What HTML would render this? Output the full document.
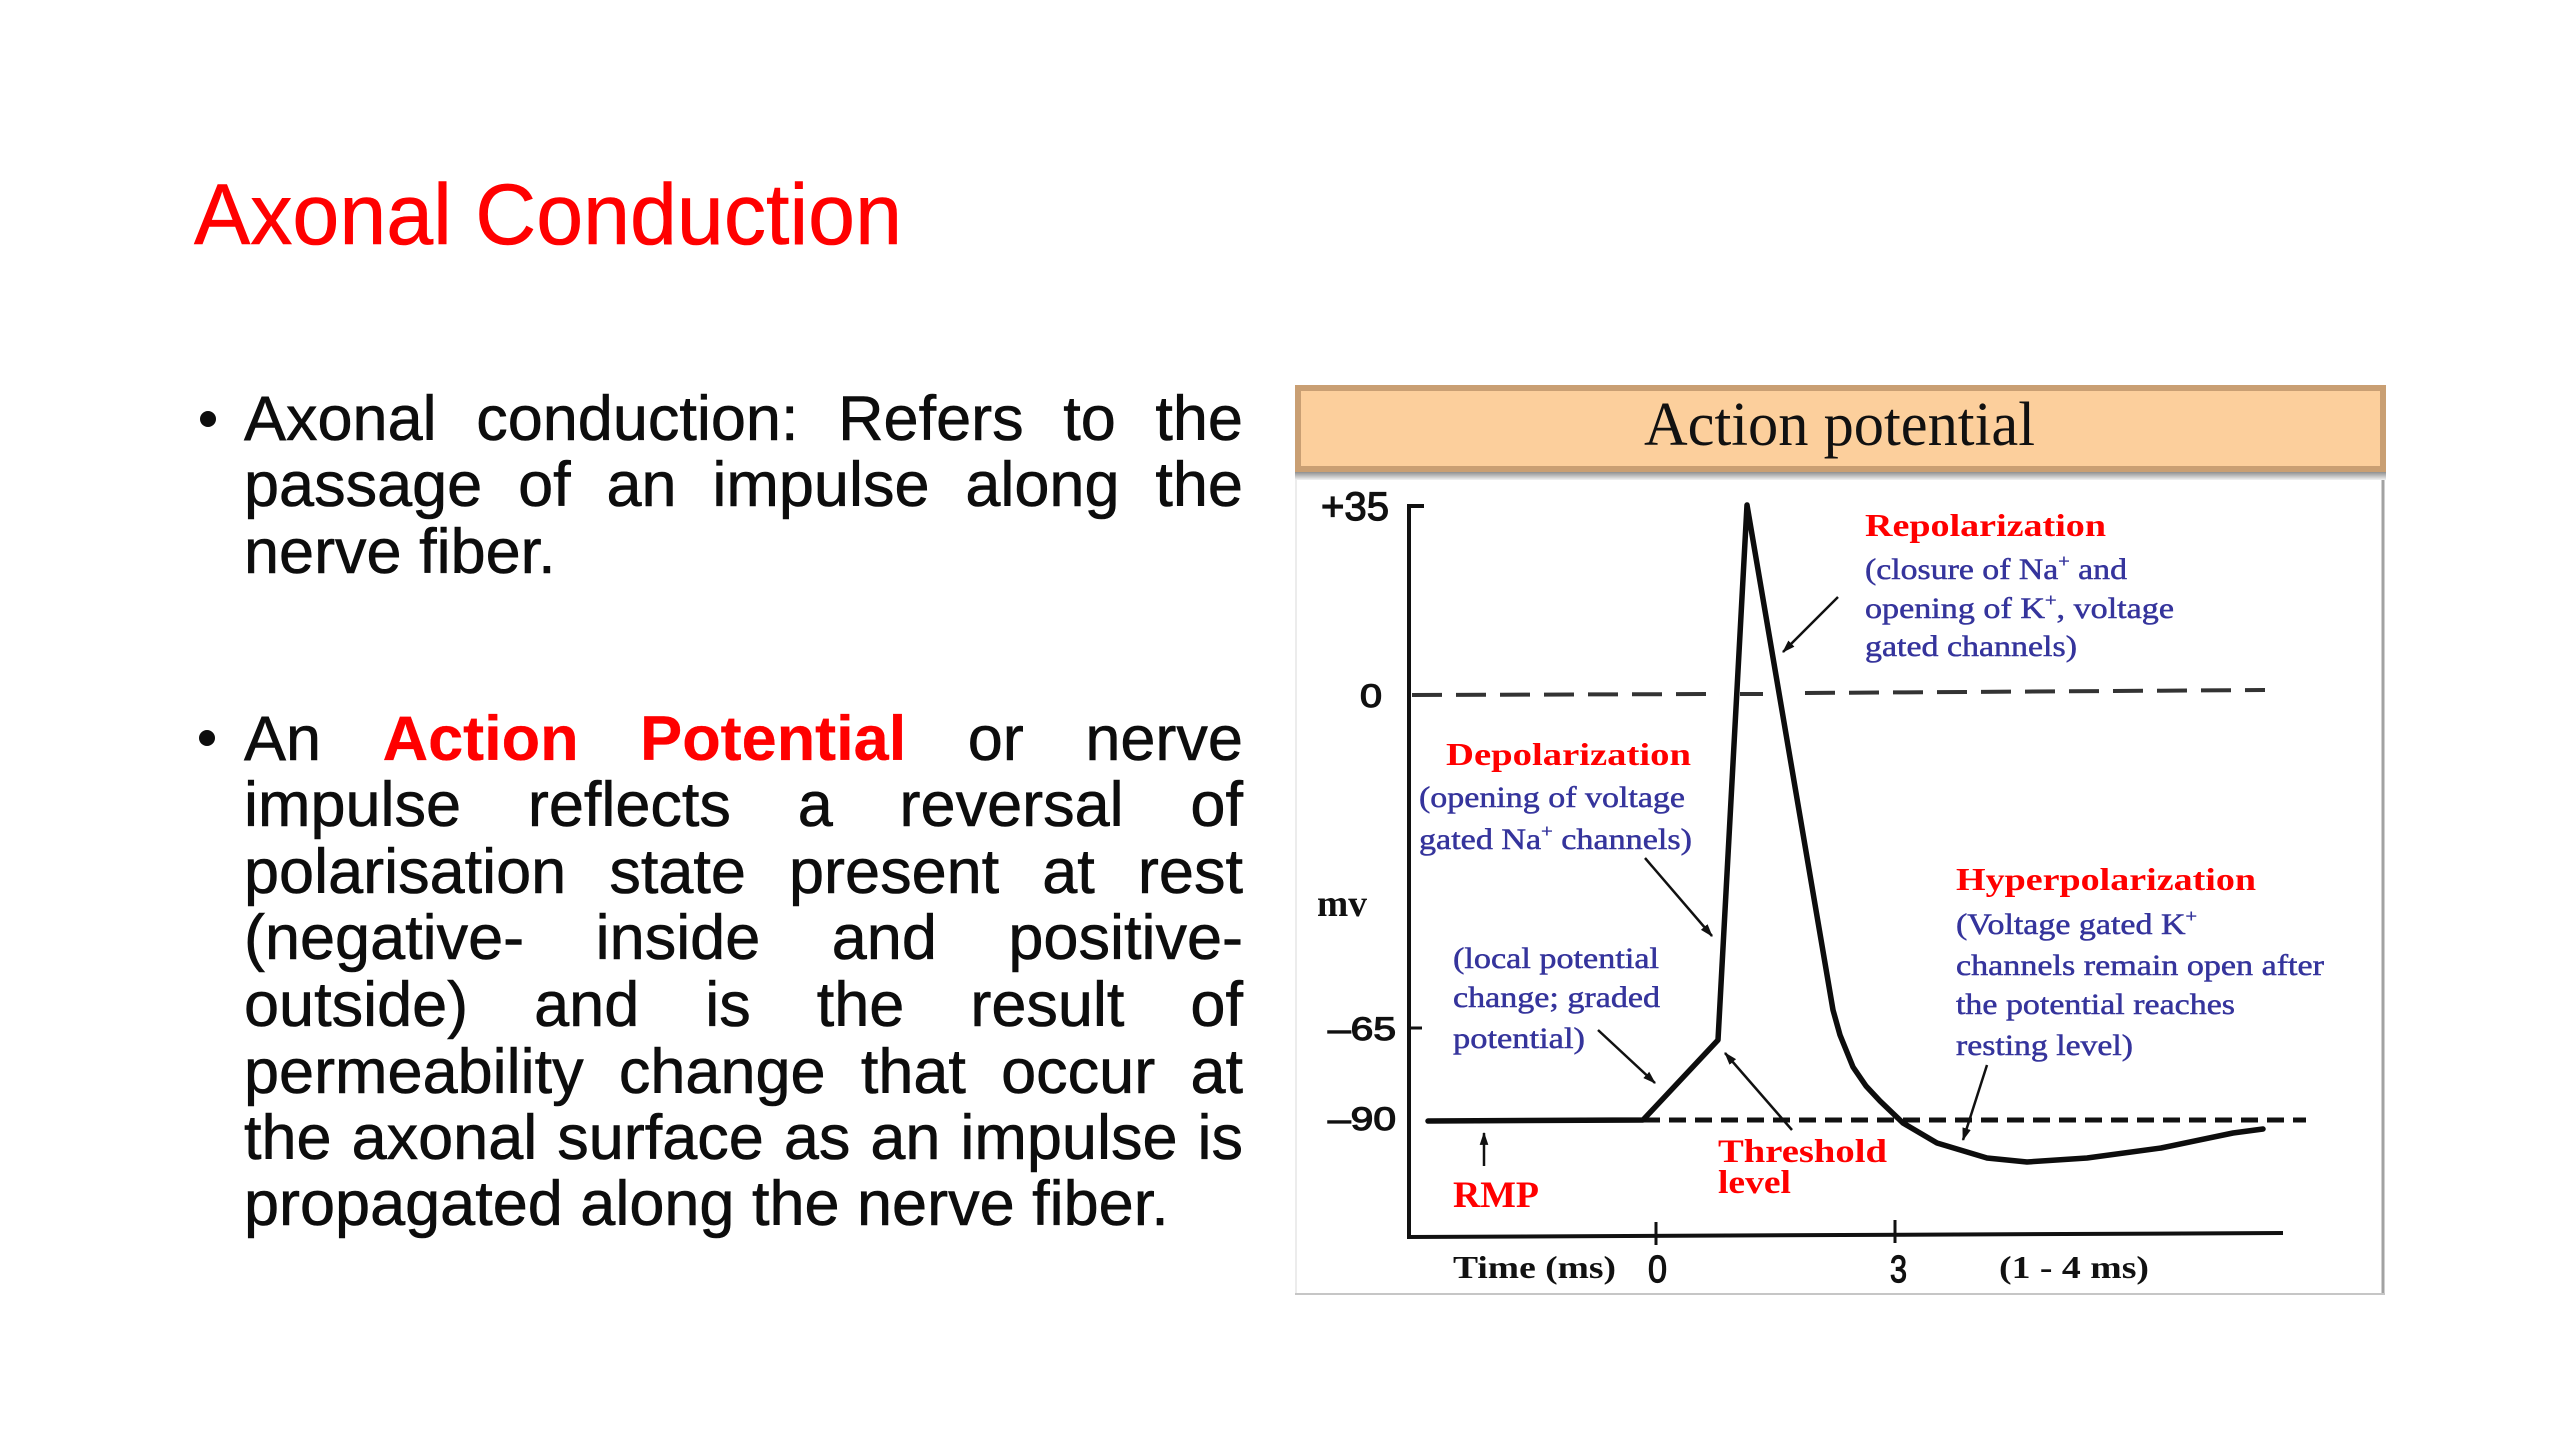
<!DOCTYPE html>
<html>
<head>
<meta charset="utf-8">
<style>
  html, body { margin:0; padding:0; }
  body { width:2560px; height:1440px; background:#ffffff; position:relative; overflow:hidden; }
  .ln { position:absolute; left:244px; width:999px; height:63px; line-height:63px; font-family:"Liberation Sans", sans-serif; font-size:63px; color:#0d0d0d; white-space:nowrap; -webkit-text-stroke:0.6px #0d0d0d; }
  .j { display:flex; justify-content:space-between; }
  .r { color:#ff0000; font-weight:bold; -webkit-text-stroke:0.3px #ff0000; }
  .dot { position:absolute; width:16px; height:16px; border-radius:50%; background:#0d0d0d; }
</style>
</head>
<body>

<svg width="2560" height="1440" viewBox="0 0 2560 1440" style="position:absolute;left:0;top:0">
  <defs>
    <linearGradient id="sh" x1="0" y1="0" x2="0" y2="1">
      <stop offset="0" stop-color="#8f8f8f"/>
      <stop offset="1" stop-color="#f2f2f2"/>
    </linearGradient>
    <marker id="ah" viewBox="0 0 12 8" refX="11" refY="4" markerWidth="13" markerHeight="9" markerUnits="userSpaceOnUse" orient="auto">
      <path d="M0,0 L12,4 L0,8 z" fill="#111"/>
    </marker>
  </defs>

  <!-- Title -->
  <text x="194" y="244" font-family="Liberation Sans, sans-serif" font-size="86" fill="#ff0000" stroke="#ff0000" stroke-width="0.6" textLength="708" lengthAdjust="spacingAndGlyphs">Axonal Conduction</text>

  <!-- Chart frame -->
  <rect x="1295" y="472" width="1090" height="822" fill="#ffffff"/>
  <line x1="1296" y1="478" x2="1296" y2="1294" stroke="#ececec" stroke-width="2"/>
  <line x1="2383" y1="474" x2="2383" y2="1295" stroke="#a2a2a2" stroke-width="3"/>
  <line x1="1295" y1="1294" x2="2385" y2="1294" stroke="#c6c6c6" stroke-width="2"/>

  <!-- Header -->
  <rect x="1298" y="388" width="1085" height="81" fill="#fccf9c" stroke="#c99f73" stroke-width="6"/>
  <rect x="1295" y="472" width="1091" height="8" fill="url(#sh)"/>
  <text x="1644" y="445" font-family="Liberation Serif, serif" font-size="62" fill="#111" textLength="391" lengthAdjust="spacingAndGlyphs">Action potential</text>

  <!-- Axes -->
  <polyline points="1424,506 1409,506 1409,1237 2283,1233" fill="none" stroke="#111" stroke-width="4"/>
  <line x1="1409" y1="1028" x2="1422" y2="1028" stroke="#111" stroke-width="3"/>
  <line x1="1656" y1="1222" x2="1656" y2="1245" stroke="#111" stroke-width="3"/>
  <line x1="1895" y1="1220" x2="1895" y2="1243" stroke="#111" stroke-width="3"/>

  <!-- Zero dashed line -->
  <path d="M1412,695 L1720,694" stroke="#333" stroke-width="4" stroke-dasharray="30 14" fill="none"/>
  <path d="M1740,694 L1763,694" stroke="#333" stroke-width="4" fill="none"/>
  <path d="M1805,693 L2265,690" stroke="#333" stroke-width="4" stroke-dasharray="30 14" fill="none"/>

  <!-- Resting dashed line -->
  <path d="M1643,1120 L2306,1120" stroke="#111" stroke-width="5" stroke-dasharray="17 9" fill="none"/>

  <!-- Action potential trace -->
  <polyline points="1428,1121 1643,1120 1718,1040 1747,505 1833,1010 1840,1035 1853,1067 1866,1086 1880,1101 1903,1123 1937,1143 1987,1158 2027,1162 2087,1158 2161,1148 2233,1133 2263,1129"
            fill="none" stroke="#0d0d0d" stroke-width="5.5" stroke-linejoin="round" stroke-linecap="round"/>

  <!-- Arrows -->
  <g stroke="#111" stroke-width="2.5" fill="none">
    <line x1="1838" y1="597" x2="1783" y2="652" marker-end="url(#ah)"/>
    <line x1="1645" y1="858" x2="1712" y2="936" marker-end="url(#ah)"/>
    <line x1="1598" y1="1030" x2="1655" y2="1083" marker-end="url(#ah)"/>
    <line x1="1792" y1="1130" x2="1725" y2="1053" marker-end="url(#ah)"/>
    <line x1="1987" y1="1065" x2="1963" y2="1140" marker-end="url(#ah)"/>
    <line x1="1484" y1="1166" x2="1484" y2="1133" marker-end="url(#ah)"/>
  </g>

  <!-- Y labels -->
  <g font-family="Liberation Sans, sans-serif" fill="#111" stroke="#111" stroke-width="1.2">
    <text x="1321" y="520" font-size="40" textLength="68" lengthAdjust="spacingAndGlyphs">+35</text>
    <text x="1360" y="707" font-size="32" textLength="22" lengthAdjust="spacingAndGlyphs">0</text>
    <text x="1328" y="1040" font-size="32" textLength="68" lengthAdjust="spacingAndGlyphs">–65</text>
    <text x="1328" y="1130" font-size="32" textLength="68" lengthAdjust="spacingAndGlyphs">–90</text>
    <text x="1648" y="1282" font-size="38" textLength="19" lengthAdjust="spacingAndGlyphs">0</text>
    <text x="1890" y="1282" font-size="38" textLength="17" lengthAdjust="spacingAndGlyphs">3</text>
  </g>
  <g font-family="Liberation Serif, serif" font-weight="bold" fill="#111">
    <text x="1317" y="916" font-size="38" textLength="50" lengthAdjust="spacingAndGlyphs">mv</text>
    <text x="1453" y="1278" font-size="32" textLength="163" lengthAdjust="spacingAndGlyphs">Time (ms)</text>
    <text x="1999" y="1278" font-size="32" textLength="150" lengthAdjust="spacingAndGlyphs">(1 - 4 ms)</text>
  </g>

  <!-- Red labels -->
  <g font-family="Liberation Serif, serif" font-weight="bold" fill="#ff0000">
    <text x="1865" y="536" font-size="32" textLength="241" lengthAdjust="spacingAndGlyphs">Repolarization</text>
    <text x="1446" y="765" font-size="32" textLength="245" lengthAdjust="spacingAndGlyphs">Depolarization</text>
    <text x="1956" y="890" font-size="32" textLength="300" lengthAdjust="spacingAndGlyphs">Hyperpolarization</text>
    <text x="1453" y="1207" font-size="37" textLength="86" lengthAdjust="spacingAndGlyphs">RMP</text>
    <text x="1718" y="1162" font-size="33" textLength="169" lengthAdjust="spacingAndGlyphs">Threshold</text>
    <text x="1718" y="1193" font-size="33" textLength="73" lengthAdjust="spacingAndGlyphs">level</text>
  </g>

  <!-- Blue annotations -->
  <g font-family="Liberation Serif, serif" fill="#35349c" stroke="#35349c" stroke-width="0.5" font-size="30">
    <text x="1865" y="579" textLength="262" lengthAdjust="spacingAndGlyphs">(closure of Na<tspan dy="-12" font-size="18">+</tspan><tspan dy="12"> and</tspan></text>
    <text x="1865" y="618" textLength="309" lengthAdjust="spacingAndGlyphs">opening of K<tspan dy="-12" font-size="18">+</tspan><tspan dy="12">, voltage</tspan></text>
    <text x="1865" y="656" textLength="212" lengthAdjust="spacingAndGlyphs">gated channels)</text>

    <text x="1419" y="807" textLength="266" lengthAdjust="spacingAndGlyphs">(opening of voltage</text>
    <text x="1419" y="849" textLength="273" lengthAdjust="spacingAndGlyphs">gated Na<tspan dy="-12" font-size="18">+</tspan><tspan dy="12"> channels)</tspan></text>

    <text x="1453" y="968" textLength="206" lengthAdjust="spacingAndGlyphs">(local potential</text>
    <text x="1453" y="1007" textLength="207" lengthAdjust="spacingAndGlyphs">change; graded</text>
    <text x="1453" y="1048" textLength="132" lengthAdjust="spacingAndGlyphs">potential)</text>

    <text x="1956" y="934" textLength="241" lengthAdjust="spacingAndGlyphs">(Voltage gated K<tspan dy="-12" font-size="18">+</tspan></text>
    <text x="1956" y="975" textLength="368" lengthAdjust="spacingAndGlyphs">channels remain open after</text>
    <text x="1956" y="1014" textLength="279" lengthAdjust="spacingAndGlyphs">the potential reaches</text>
    <text x="1956" y="1055" textLength="177" lengthAdjust="spacingAndGlyphs">resting level)</text>
  </g>
</svg>

<!-- Bullets -->
<div class="dot" style="left:200px; top:411px;"></div>
<div class="dot" style="left:199px; top:730px;"></div>

<!-- Bullet 1 -->
<div class="ln j" style="top:388px;"><span>Axonal</span><span>conduction:</span><span>Refers</span><span>to</span><span>the</span></div>
<div class="ln j" style="top:454px;"><span>passage</span><span>of</span><span>an</span><span>impulse</span><span>along</span><span>the</span></div>
<div class="ln" style="top:521px;">nerve fiber.</div>

<!-- Bullet 2 -->
<div class="ln j" style="top:708px;"><span>An</span><span class="r">Action</span><span class="r">Potential</span><span>or</span><span>nerve</span></div>
<div class="ln j" style="top:774px;"><span>impulse</span><span>reflects</span><span>a</span><span>reversal</span><span>of</span></div>
<div class="ln j" style="top:841px;"><span>polarisation</span><span>state</span><span>present</span><span>at</span><span>rest</span></div>
<div class="ln j" style="top:907px;"><span>(negative-</span><span>inside</span><span>and</span><span>positive-</span></div>
<div class="ln j" style="top:974px;"><span>outside)</span><span>and</span><span>is</span><span>the</span><span>result</span><span>of</span></div>
<div class="ln j" style="top:1041px;"><span>permeability</span><span>change</span><span>that</span><span>occur</span><span>at</span></div>
<div class="ln j" style="top:1107px;"><span>the</span><span>axonal</span><span>surface</span><span>as</span><span>an</span><span>impulse</span><span>is</span></div>
<div class="ln" style="top:1173px;">propagated along the nerve fiber.</div>

</body>
</html>
